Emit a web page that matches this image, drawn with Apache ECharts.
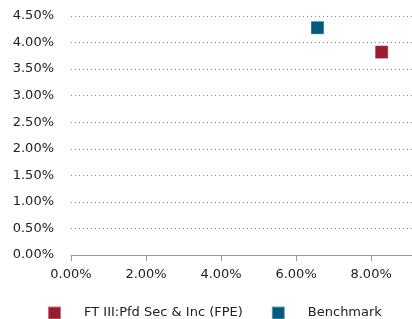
<!DOCTYPE html>
<html><head><meta charset="utf-8">
<script src="https://cdn.jsdelivr.net/npm/echarts@6/dist/echarts.min.js"></script>
<style>html,body{margin:0;padding:0;background:#fff}#c{width:412px;height:319px}</style>
</head><body><div id="c"></div>
<script>
const seriesNames = ['FT III:Pfd Sec & Inc (FPE)', 'Benchmark'];
const seriesColors = ['#9b1b30', '#005a7f'];
const xValues = [8.28, 6.57];
const yValues = [3.82, 4.28];
const xTicks = [0, 2, 4, 6, 8];
const yTicks = [0, 0.5, 1, 1.5, 2, 2.5, 3, 3.5, 4, 4.5];

const chart = echarts.init(document.getElementById('c'), null, {renderer: 'canvas'});
const font = 'DejaVu Sans';
chart.setOption({
  animation: false,
  grid: {left: 71, right: 0, top: 16, bottom: 64},
  xAxis: {
    type: 'value', min: 0, max: 9.09, interval: 2,
    axisLine: {show: true, lineStyle: {color: '#999', width: 1}},
    axisTick: {show: true, length: 6, lineStyle: {color: '#999'}, customValues: xTicks},
    axisLabel: {color: '#222', fontFamily: font, fontSize: 13, margin: 13,
      customValues: xTicks, formatter: v => v.toFixed(2) + '%'},
    splitLine: {show: false}
  },
  yAxis: {
    type: 'value', min: 0, max: 4.5, interval: 0.5,
    axisLine: {show: false}, axisTick: {show: false},
    axisLabel: {color: '#222', fontFamily: font, fontSize: 13, margin: 17,
      customValues: yTicks, formatter: v => v.toFixed(2) + '%'},
    splitLine: {show: true, lineStyle: {color: '#888', type: [1, 3], width: 1}}
  },
  legend: {
    top: 305.5, left: 47, padding: 0, itemWidth: 13, itemHeight: 13, itemGap: 28, icon: 'rect',
    textStyle: {color: '#222', fontFamily: font, fontSize: 13, padding: [0, 0, 0, 18]},
    data: seriesNames
  },
  series: seriesNames.map((n, i) => ({
    name: n, type: 'scatter', symbol: 'rect', symbolSize: 13,
    itemStyle: {color: seriesColors[i], opacity: 1, borderColor: 'rgba(255,255,255,0.4)', borderWidth: 1},
    data: [[xValues[i], yValues[i]]]
  }))
});
</script></body></html>
